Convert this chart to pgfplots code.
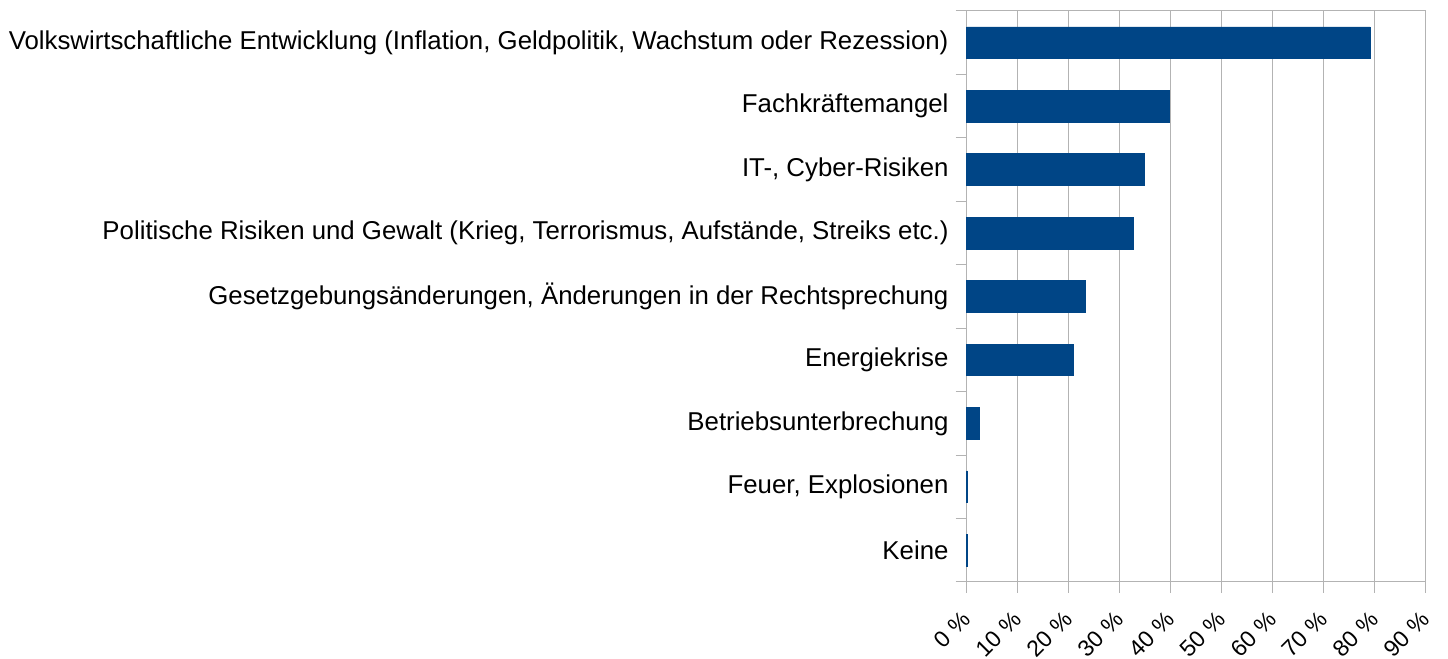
\documentclass[border=0pt]{standalone}
\usepackage{fontspec}
\setmainfont{Liberation Sans}
\usepackage{pgfplots}
\pgfplotsset{compat=1.18}
\definecolor{barblue}{HTML}{004586}
\definecolor{gridgray}{HTML}{B3B3B3}
\begin{document}
\fontsize{25.8pt}{30pt}\selectfont
\begin{tikzpicture}
\begin{axis}[
  name=ax,
  scale only axis,
  width=459pt, height=571pt,
  xbar, bar width=0.5,
  xmin=0, xmax=90,
  ymin=-0.5, ymax=8.5,
  y dir=reverse,
  axis line style={gridgray, line width=1pt},
  xtick={0,10,...,90},
  xticklabels={0 \%,10 \%,20 \%,30 \%,40 \%,50 \%,60 \%,70 \%,80 \%,90 \%},
  xticklabel style={xshift=5pt, yshift=-28pt, rotate=45, anchor=base east, font=\fontsize{23pt}{27pt}\selectfont, inner sep=0pt},
  xmajorgrids,
  grid style={gridgray, line width=1pt},
  major tick style={gridgray, line width=1pt},
  minor tick style={gridgray, line width=1pt},
  tick align=outside,
  tick pos=left,
  major tick length=11pt,
  minor tick length=11pt,
  ytick={0,...,8},
  yticklabels={
    {Volkswirtschaftliche Entwicklung (Inflation, Geldpolitik, Wachstum oder Rezession)},
    {Fachkräftemangel},
    {IT-, Cyber-Risiken},
    {Politische Risiken und Gewalt (Krieg, Terrorismus, Aufstände, Streiks etc.)},
    {Gesetzgebungsänderungen, Änderungen in der Rechtsprechung},
    {Energiekrise},
    {Betriebsunterbrechung},
    {Feuer, Explosionen},
    {Keine}},
  yticklabel style={font=\fontsize{25.8pt}{30pt}\selectfont, inner sep=0pt, xshift=-7pt},
  major y tick style={draw=none},
  minor ytick={-0.5,0.5,...,8.5},
  clip=false,
]
\addplot[fill=barblue, draw=barblue, line width=0.6pt] coordinates {
  (79.1,0) (39.7,1) (34.8,2) (32.6,3) (23.2,4) (20.9,5) (2.4,6) (0.15,7) (0.15,8)
};
\end{axis}
\pgfresetboundingbox
\path ([shift={(-966.7pt,-77pt)}]ax.south west) rectangle ([shift={(22.3pt,11pt)}]ax.north east);
\end{tikzpicture}
\end{document}
